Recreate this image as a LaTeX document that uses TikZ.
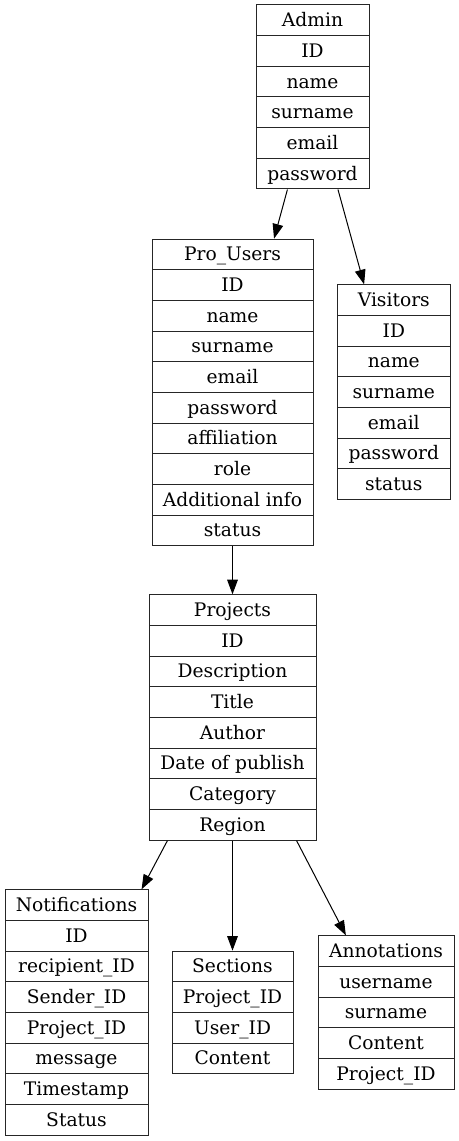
\documentclass[tikz,border=0pt]{standalone}
\usepackage{fontspec}
\setmainfont{DejaVu Serif}
\usepackage{tikz}
\usetikzlibrary{
  arrows.meta,
  shapes.multipart
}
\tikzset{
  every node/.style={inner sep=2pt}
}
\newcommand{\rowstrut}{\rule[-6.3pt]{0pt}{22.25pt}}

\begin{document}
\begin{tikzpicture}[
    x=0.75pt, y=-0.75pt,
    font=\fontsize{14pt}{16pt}\selectfont,
    record/.style={rectangle split, draw=black!85, line width=0.75pt, inner xsep=0pt, inner ysep=0pt},
    arrow/.style={-{Triangle[length=11pt, width=8pt]}, draw=black, line width=0.75pt}
]
\useasboundingbox (0,0) rectangle (459,1141);

    \node[record, rectangle split parts=6, minimum width=84.75pt] (admin) at (312.5,97) {
        \rowstrut Admin \nodepart{two} \rowstrut ID \nodepart{three} \rowstrut name
        \nodepart{four} \rowstrut surname \nodepart{five} \rowstrut email \nodepart{six} \rowstrut password
    };

    \node[record, rectangle split parts=10, minimum width=120.75pt] (prousers) at (232.5,392.5) {
        \rowstrut Pro\_Users \nodepart{two} \rowstrut ID \nodepart{three} \rowstrut name
        \nodepart{four} \rowstrut surname \nodepart{five} \rowstrut email \nodepart{six} \rowstrut password
        \nodepart{seven} \rowstrut affiliation \nodepart{eight} \rowstrut role
        \nodepart{nine} \rowstrut Additional info \nodepart{ten} \rowstrut status
    };

    \node[record, rectangle split parts=7, minimum width=85pt] (visitors) at (393.8,392.2) {
        \rowstrut Visitors \nodepart{two} \rowstrut ID \nodepart{three} \rowstrut name
        \nodepart{four} \rowstrut surname \nodepart{five} \rowstrut email \nodepart{six} \rowstrut password
        \nodepart{seven} \rowstrut status
    };

    \node[record, rectangle split parts=8, minimum width=125.25pt] (projects) at (232.5,717.5) {
        \rowstrut Projects \nodepart{two} \rowstrut ID \nodepart{three} \rowstrut Description
        \nodepart{four} \rowstrut Title \nodepart{five} \rowstrut Author \nodepart{six} \rowstrut Date of publish
        \nodepart{seven} \rowstrut Category \nodepart{eight} \rowstrut Region
    };

    \node[record, rectangle split parts=8, minimum width=107.25pt] (notifications) at (76.5,1012.5) {
        \rowstrut Notifications \nodepart{two} \rowstrut ID \nodepart{three} \rowstrut recipient\_ID
        \nodepart{four} \rowstrut Sender\_ID \nodepart{five} \rowstrut Project\_ID \nodepart{six} \rowstrut message
        \nodepart{seven} \rowstrut Timestamp \nodepart{eight} \rowstrut Status
    };

    \node[record, rectangle split parts=4, minimum width=90.75pt] (sections) at (232.5,1012.5) {
        \rowstrut Sections \nodepart{two} \rowstrut Project\_ID \nodepart{three} \rowstrut User\_ID
        \nodepart{four} \rowstrut Content
    };

    \node[record, rectangle split parts=5, minimum width=102pt] (annotations) at (386,1012.5) {
        \rowstrut Annotations \nodepart{two} \rowstrut username \nodepart{three} \rowstrut surname
        \nodepart{four} \rowstrut Content \nodepart{five} \rowstrut Project\_ID
    };

    \draw[arrow] (admin) -- (prousers);
    \draw[arrow] (admin) -- (visitors);
    \draw[arrow] (prousers) -- (projects);
    \draw[arrow] (projects) -- (notifications);
    \draw[arrow] (projects) -- (sections);
    \draw[arrow] (projects) -- (annotations);

\end{tikzpicture}
\end{document}
